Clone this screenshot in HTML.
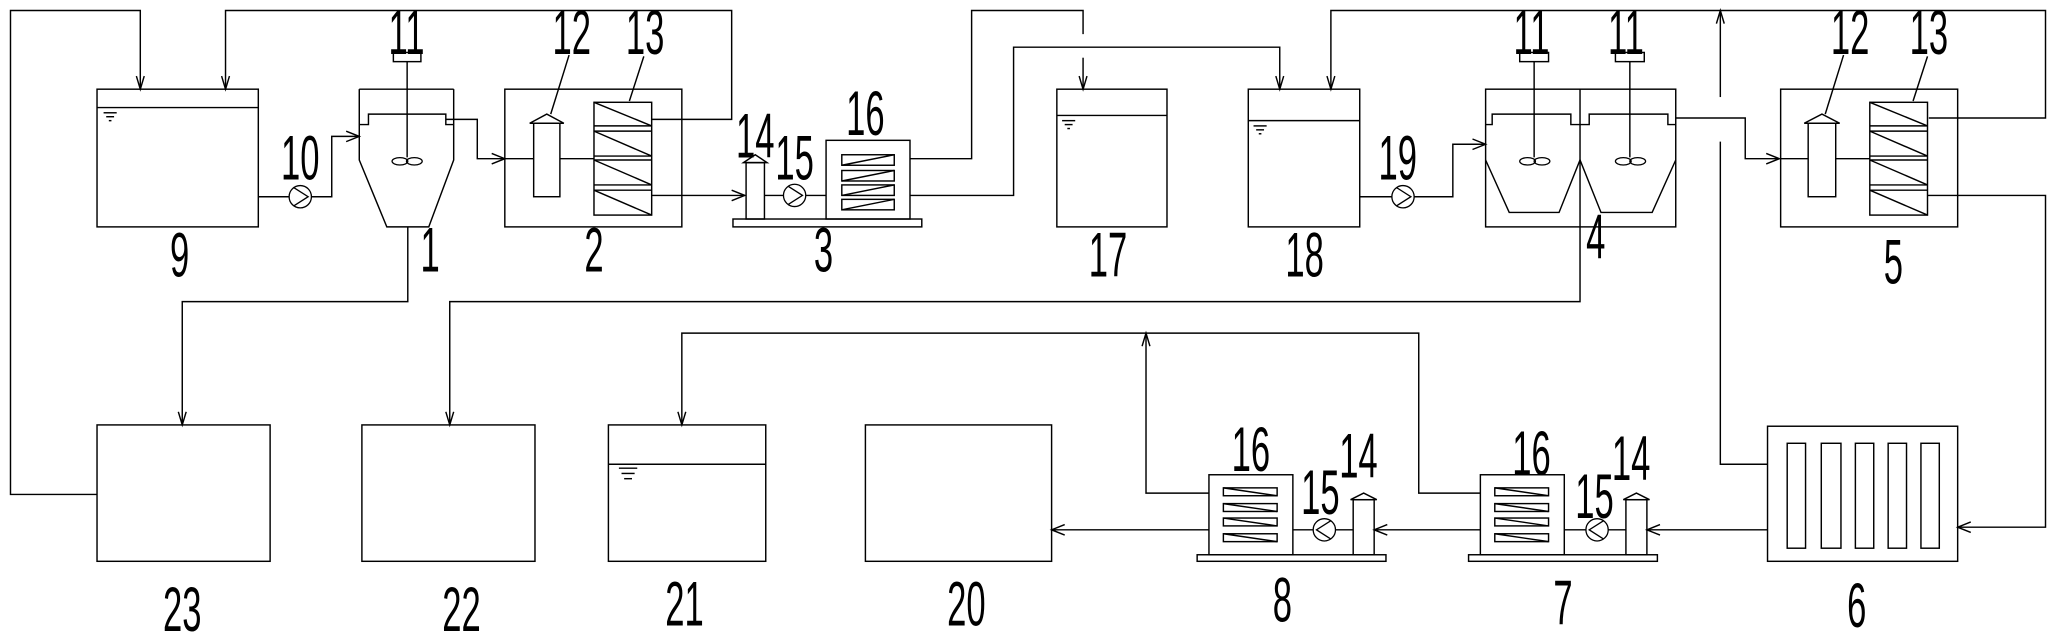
<!DOCTYPE html>
<html><head><meta charset="utf-8"><style>
html,body{margin:0;padding:0;background:#fff;}
svg{display:block;}
text{font-family:"DejaVu Sans ExtraLight","Liberation Sans",sans-serif;font-weight:200;font-size:48px;fill:#000;}
</style></head><body>
<svg width="2056" height="640" viewBox="0 0 1568 488" preserveAspectRatio="none" xmlns="http://www.w3.org/2000/svg">
<defs>
<g id="pump"><circle cx="0" cy="0" r="8.5" fill="#fff" stroke="#000"/><polyline points="-5,-7 6,0 -5,7" fill="none" stroke="#000"/></g>
<g id="pumpL"><circle cx="0" cy="0" r="8.5" fill="#fff" stroke="#000"/><polyline points="5,-7 -6,0 5,7" fill="none" stroke="#000"/></g>
<g id="stir"><ellipse cx="-5" cy="0" rx="6" ry="2.8" fill="none" stroke="#000"/><ellipse cx="6" cy="0" rx="6" ry="2.8" fill="none" stroke="#000"/></g>
</defs>
<g fill="none" stroke="#000" stroke-width="1.1">
<polyline points="74,377 8,377 8,8 107,8 107,68"/>
<polyline points="104,58 107,68 110,58"/>
<polyline points="172,68 172,8 558,8 558,91 497,91"/>
<polyline points="169,58 172,68 175,58"/>
<rect x="74" y="68" width="123" height="105"/>
<line x1="74" y1="82" x2="197" y2="82"/>
<line x1="79" y1="86" x2="89" y2="86"/><line x1="81" y1="89" x2="87" y2="89"/><line x1="83" y1="92" x2="85" y2="92"/>
<polyline points="197,150 253,150 253,104 274,104"/>
<polyline points="264,100 274,104 264,108"/>
<polyline points="274,68 346,68"/>
<polyline points="274,68 274,122 295,173 327,173 346,122 346,68"/>
<polyline points="274,95 281,95 281,87 340,87 340,95 346,95"/>
<rect x="300" y="40" width="21" height="7"/>
<line x1="310.5" y1="47" x2="310.5" y2="120"/>
<polyline points="340,91 364,91 364,121 385,121"/>
<polyline points="375,117 385,121 375,125"/>
<polyline points="311,173 311,230 139,230 139,324"/>
<polyline points="136,314 139,324 142,314"/>
<rect x="385" y="68" width="135" height="105"/>
<line x1="385" y1="121" x2="453" y2="121"/>
<rect x="407" y="94" width="20" height="56" fill="#fff"/>
<polygon points="404,94 417,87 430,94" fill="#fff"/>
<rect x="453" y="78" width="44" height="86"/>
<line x1="453" y1="96" x2="497" y2="96"/><line x1="453" y1="100" x2="497" y2="100"/>
<line x1="453" y1="119" x2="497" y2="119"/><line x1="453" y1="122" x2="497" y2="122"/>
<line x1="453" y1="141" x2="497" y2="141"/><line x1="453" y1="145" x2="497" y2="145"/>
<line x1="453" y1="78" x2="497" y2="96"/><line x1="453" y1="100" x2="497" y2="119"/>
<line x1="453" y1="122" x2="497" y2="141"/><line x1="453" y1="145" x2="497" y2="164"/>
<line x1="420" y1="87" x2="434" y2="42"/><line x1="480" y1="77" x2="491" y2="43"/>
<polyline points="497,149 568,149"/>
<polyline points="558,145 568,149 558,153"/>
<rect x="559" y="167" width="144" height="6"/>
<rect x="569" y="124" width="14" height="43"/>
<polygon points="567,124 576,118 585,124"/>
<line x1="583" y1="149" x2="630" y2="149"/>
<rect x="630" y="107" width="64" height="60"/>
<rect x="642" y="118" width="40" height="8"/><line x1="642" y1="126" x2="682" y2="118"/>
<rect x="642" y="130" width="40" height="8"/><line x1="642" y1="138" x2="682" y2="130"/>
<rect x="642" y="141" width="40" height="8"/><line x1="642" y1="149" x2="682" y2="141"/>
<rect x="642" y="152" width="40" height="8"/><line x1="642" y1="160" x2="682" y2="152"/>
<polyline points="694,121 741,121 741,8 826,8 826,26"/>
<polyline points="826,44 826,68"/><polyline points="823,58 826,68 829,58"/>
<polyline points="694,149 773,149 773,36 976,36 976,68"/><polyline points="973,58 976,68 979,58"/>
<rect x="806" y="68" width="84" height="105"/>
<line x1="806" y1="88" x2="890" y2="88"/>
<line x1="810" y1="92" x2="820" y2="92"/><line x1="812" y1="95" x2="818" y2="95"/><line x1="814" y1="98" x2="816" y2="98"/>
<rect x="952" y="68" width="85" height="105"/>
<line x1="952" y1="92" x2="1037" y2="92"/>
<line x1="956" y1="96" x2="966" y2="96"/><line x1="958" y1="99" x2="964" y2="99"/><line x1="960" y1="102" x2="962" y2="102"/>
<polyline points="1015,68 1015,8 1560,8 1560,90 1471,90"/><polyline points="1012,58 1015,68 1018,58"/>
<polyline points="1037,150 1108,150 1108,110 1133,110"/><polyline points="1123,106 1133,110 1123,114"/>
<rect x="1133" y="68" width="145" height="105"/>
<line x1="1205" y1="68" x2="1205" y2="173"/>
<polyline points="1133,122 1151,162 1189,162 1205,122 1221,162 1260,162 1278,122"/>
<polyline points="1133,95 1138,95 1138,87 1198,87 1198,95 1212,95 1212,87 1272,87 1272,95 1278,95"/>
<rect x="1159" y="40" width="22" height="7"/><line x1="1170" y1="47" x2="1170" y2="120"/>
<rect x="1232" y="40" width="22" height="7"/><line x1="1243" y1="47" x2="1243" y2="120"/>
<polyline points="1278,90 1331,90 1331,121 1357,121"/><polyline points="1347,117 1357,121 1347,125"/>
<polyline points="1205,173 1205,230 343,230 343,324"/><polyline points="340,314 343,324 346,314"/>
<line x1="1312" y1="8" x2="1312" y2="74"/><polyline points="1309,18 1312,8 1315,18"/>
<polyline points="1312,108 1312,354 1348,354"/>
<rect x="1358" y="68" width="135" height="105"/>
<line x1="1358" y1="121" x2="1426" y2="121"/>
<rect x="1379" y="94" width="21" height="56" fill="#fff"/>
<polygon points="1376,94 1389.5,87 1403,94" fill="#fff"/>
<rect x="1426" y="78" width="44" height="86"/>
<line x1="1426" y1="96" x2="1470" y2="96"/><line x1="1426" y1="100" x2="1470" y2="100"/>
<line x1="1426" y1="119" x2="1470" y2="119"/><line x1="1426" y1="122" x2="1470" y2="122"/>
<line x1="1426" y1="141" x2="1470" y2="141"/><line x1="1426" y1="145" x2="1470" y2="145"/>
<line x1="1426" y1="78" x2="1470" y2="96"/><line x1="1426" y1="100" x2="1470" y2="119"/>
<line x1="1426" y1="122" x2="1470" y2="141"/><line x1="1426" y1="145" x2="1470" y2="164"/>
<line x1="1392" y1="87" x2="1406" y2="42"/><line x1="1459" y1="77" x2="1470" y2="43"/>
<polyline points="1470,149 1560,149 1560,402 1493,402"/><polyline points="1503,398 1493,402 1503,406"/>
<rect x="74" y="324" width="132" height="104"/>
<rect x="276" y="324" width="132" height="104"/>
<rect x="464" y="324" width="120" height="104"/>
<line x1="464" y1="354" x2="584" y2="354"/>
<line x1="472" y1="357" x2="486" y2="357"/><line x1="474" y1="361" x2="484" y2="361"/><line x1="476" y1="365" x2="482" y2="365"/>
<rect x="660" y="324" width="142" height="104"/>
<rect x="1348" y="325" width="145" height="103"/>
<rect x="1363" y="338" width="14" height="80"/><rect x="1389" y="338" width="15" height="80"/>
<rect x="1415" y="338" width="14" height="80"/><rect x="1440" y="338" width="14" height="80"/>
<rect x="1465" y="338" width="14" height="80"/>
<line x1="1348" y1="404" x2="1256" y2="404"/><polyline points="1266,400 1256,404 1266,408"/>
<rect x="1120" y="423" width="144" height="5"/>
<rect x="1129" y="362" width="64" height="61"/>
<rect x="1140" y="372" width="41" height="6"/><line x1="1140" y1="372" x2="1181" y2="378"/>
<rect x="1140" y="384" width="41" height="6"/><line x1="1140" y1="384" x2="1181" y2="390"/>
<rect x="1140" y="395" width="41" height="6"/><line x1="1140" y1="395" x2="1181" y2="401"/>
<rect x="1140" y="407" width="41" height="6"/><line x1="1140" y1="407" x2="1181" y2="413"/>
<line x1="1193" y1="404" x2="1240" y2="404"/>
<rect x="1240" y="381" width="16" height="42"/><polygon points="1238,381 1248,376 1258,381"/>
<polyline points="1129,376 1082,376 1082,254 520,254 520,324"/><polyline points="517,314 520,324 523,314"/>
<line x1="1129" y1="404" x2="1048" y2="404"/><polyline points="1058,400 1048,404 1058,408"/>
<rect x="913" y="423" width="144" height="5"/>
<rect x="922" y="362" width="64" height="61"/>
<rect x="933" y="372" width="41" height="6"/><line x1="933" y1="372" x2="974" y2="378"/>
<rect x="933" y="384" width="41" height="6"/><line x1="933" y1="384" x2="974" y2="390"/>
<rect x="933" y="395" width="41" height="6"/><line x1="933" y1="395" x2="974" y2="401"/>
<rect x="933" y="407" width="41" height="6"/><line x1="933" y1="407" x2="974" y2="413"/>
<line x1="986" y1="404" x2="1032" y2="404"/>
<rect x="1032" y="381" width="16" height="42"/><polygon points="1030,381 1040,376 1050,381"/>
<polyline points="922,376 874,376 874,254"/><polyline points="871,264 874,254 877,264"/>
<line x1="922" y1="404" x2="802" y2="404"/><polyline points="812,400 802,404 812,408"/>
</g>
<use href="#pump" x="229" y="150"/>
<use href="#pump" x="1070" y="150"/>
<use href="#pump" x="606" y="149"/>
<use href="#pumpL" x="1218" y="404"/>
<use href="#pumpL" x="1010" y="404"/>
<use href="#stir" x="310" y="123"/>
<use href="#stir" x="1170" y="123"/>
<use href="#stir" x="1243" y="123"/>
<g text-anchor="middle">
<text transform="translate(137,211) scale(0.55,1)">9</text>
<text transform="translate(229,137) scale(0.55,1)">10</text>
<text transform="translate(328,207) scale(0.55,1)">1</text>
<text transform="translate(453,207) scale(0.55,1)">2</text>
<text transform="translate(628,207) scale(0.55,1)">3</text>
<text transform="translate(310,41) scale(0.55,1)">11</text>
<text transform="translate(436,41) scale(0.55,1)">12</text>
<text transform="translate(492,41) scale(0.55,1)">13</text>
<text transform="translate(576,120) scale(0.55,1)">14</text>
<text transform="translate(606,137) scale(0.55,1)">15</text>
<text transform="translate(660,103) scale(0.55,1)">16</text>
<text transform="translate(845,211) scale(0.55,1)">17</text>
<text transform="translate(995,211) scale(0.55,1)">18</text>
<text transform="translate(1066,137) scale(0.55,1)">19</text>
<text transform="translate(1217,197) scale(0.55,1)">4</text>
<text transform="translate(1444,216) scale(0.55,1)">5</text>
<text transform="translate(1168,41) scale(0.55,1)">11</text>
<text transform="translate(1240,41) scale(0.55,1)">11</text>
<text transform="translate(1411,41) scale(0.55,1)">12</text>
<text transform="translate(1471,41) scale(0.55,1)">13</text>
<text transform="translate(139,481) scale(0.55,1)">23</text>
<text transform="translate(352,481) scale(0.55,1)">22</text>
<text transform="translate(522,477) scale(0.55,1)">21</text>
<text transform="translate(737,477) scale(0.55,1)">20</text>
<text transform="translate(978,474) scale(0.55,1)">8</text>
<text transform="translate(954,359) scale(0.55,1)">16</text>
<text transform="translate(1007,392) scale(0.55,1)">15</text>
<text transform="translate(1036,364) scale(0.55,1)">14</text>
<text transform="translate(1192,476) scale(0.55,1)">7</text>
<text transform="translate(1168,362) scale(0.55,1)">16</text>
<text transform="translate(1216,395) scale(0.55,1)">15</text>
<text transform="translate(1244,366) scale(0.55,1)">14</text>
<text transform="translate(1416,478) scale(0.55,1)">6</text>
</g>
</svg>
</body></html>
